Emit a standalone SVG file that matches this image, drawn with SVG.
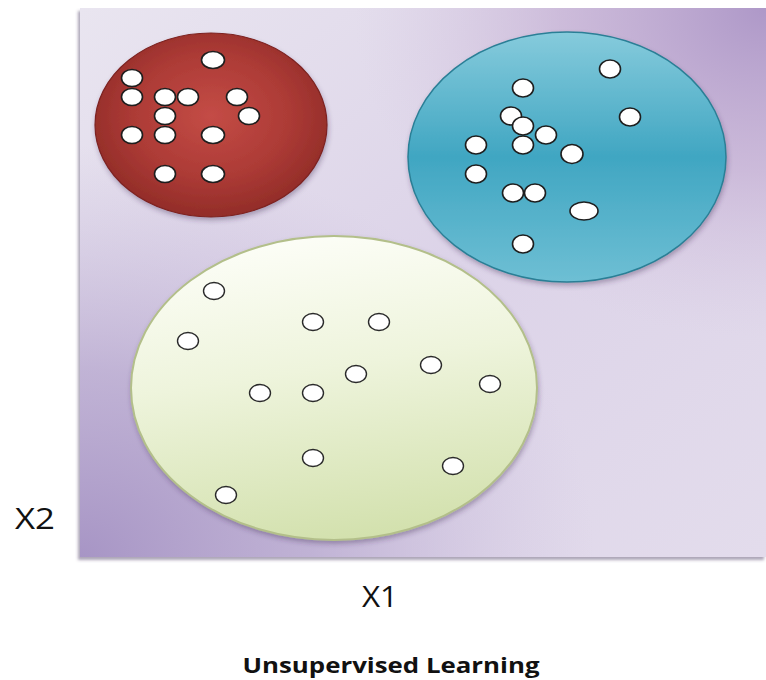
<svg xmlns="http://www.w3.org/2000/svg" width="766" height="680" viewBox="0 0 766 680">
<defs>
<linearGradient id="panelBase" x1="0" y1="0" x2="1" y2="1">
<stop offset="0" stop-color="#e9e5f0"/>
<stop offset="0.5" stop-color="#dcd3e8"/>
<stop offset="1" stop-color="#e3dcec"/>
</linearGradient>
<radialGradient id="bl" cx="0" cy="1" r="0.75" gradientUnits="objectBoundingBox">
<stop offset="0" stop-color="#a795c5" stop-opacity="1"/>
<stop offset="0.45" stop-color="#b3a3cc" stop-opacity="0.7"/>
<stop offset="1" stop-color="#c9bcdb" stop-opacity="0"/>
</radialGradient>
<radialGradient id="tr" cx="1" cy="0" r="0.6" gradientUnits="objectBoundingBox">
<stop offset="0" stop-color="#ae98c8" stop-opacity="1"/>
<stop offset="0.5" stop-color="#c0a9d0" stop-opacity="0.6"/>
<stop offset="1" stop-color="#d4c4df" stop-opacity="0"/>
</radialGradient>
<radialGradient id="redG" cx="0.5" cy="0.45" r="0.6">
<stop offset="0" stop-color="#c44c46"/>
<stop offset="0.55" stop-color="#ad3b36"/>
<stop offset="1" stop-color="#8c2925"/>
</radialGradient>
<linearGradient id="blueG" x1="0" y1="0" x2="0" y2="1">
<stop offset="0" stop-color="#86cbdc"/>
<stop offset="0.5" stop-color="#40a6c2"/>
<stop offset="1" stop-color="#6ebfd4"/>
</linearGradient>
<linearGradient id="greenG" x1="0.3" y1="0" x2="0.5" y2="1">
<stop offset="0" stop-color="#fdfef8"/>
<stop offset="0.45" stop-color="#eef4dc"/>
<stop offset="1" stop-color="#d3e1ae"/>
</linearGradient>
<filter id="sh" x="-10%" y="-10%" width="120%" height="125%">
<feDropShadow dx="1" dy="3" stdDeviation="2.5" flood-color="#3a2a50" flood-opacity="0.35"/>
</filter>
<filter id="psh" x="-5%" y="-5%" width="110%" height="110%">
<feDropShadow dx="-2" dy="3" stdDeviation="1.5" flood-color="#5a4a70" flood-opacity="0.5"/>
</filter>
</defs>
<style>
.dot{fill:#ffffff;stroke:#1e1e1e;stroke-width:1.6}
.gdot{fill:#ffffff;stroke:#2a2a2a;stroke-width:1.4}
.axis{font-family:"Open Sans","Noto Sans","DejaVu Sans",sans-serif;font-size:29px;fill:#111}
.title{font-family:"Open Sans","Noto Sans","DejaVu Sans",sans-serif;font-size:22px;font-weight:bold;fill:#111}
</style>
<rect width="766" height="680" fill="#ffffff"/>
<g id="panel" filter="url(#psh)">
<rect x="80" y="8" width="686" height="549" fill="url(#panelBase)"/>
<rect x="80" y="8" width="686" height="549" fill="url(#bl)"/>
<rect x="80" y="8" width="686" height="549" fill="url(#tr)"/>
</g>
<g id="cluster-red">
<ellipse cx="211" cy="125" rx="116" ry="92" fill="url(#redG)" stroke="#7d2420" stroke-width="1.2" filter="url(#sh)"/>
<ellipse class="dot" cx="213" cy="60" rx="11.5" ry="8.5"/>
<ellipse class="dot" cx="132" cy="78" rx="10.5" ry="8.5"/>
<ellipse class="dot" cx="132" cy="97" rx="10.5" ry="8.5"/>
<ellipse class="dot" cx="165" cy="97" rx="10.5" ry="8.5"/>
<ellipse class="dot" cx="188" cy="97" rx="10.5" ry="8.5"/>
<ellipse class="dot" cx="237" cy="97" rx="10.5" ry="8.5"/>
<ellipse class="dot" cx="165" cy="116" rx="10.5" ry="8.5"/>
<ellipse class="dot" cx="249" cy="116" rx="10.5" ry="8.5"/>
<ellipse class="dot" cx="132" cy="135" rx="10.5" ry="8.5"/>
<ellipse class="dot" cx="165" cy="135" rx="10.5" ry="8.5"/>
<ellipse class="dot" cx="213" cy="135" rx="11.5" ry="8.5"/>
<ellipse class="dot" cx="165" cy="174" rx="10.5" ry="8.5"/>
<ellipse class="dot" cx="213" cy="174" rx="11.5" ry="8.5"/>
</g>
<g id="cluster-blue">
<ellipse cx="567" cy="157" rx="159" ry="125" fill="url(#blueG)" stroke="#2a7f96" stroke-width="1.5" filter="url(#sh)"/>
<ellipse class="dot" cx="610" cy="69" rx="10.5" ry="9"/>
<ellipse class="dot" cx="523" cy="88" rx="10.5" ry="9"/>
<ellipse class="dot" cx="630" cy="117" rx="10.5" ry="9"/>
<ellipse class="dot" cx="511" cy="116" rx="10.5" ry="9"/>
<ellipse class="dot" cx="546" cy="135" rx="10.5" ry="9"/>
<ellipse class="dot" cx="523" cy="126" rx="10.5" ry="9"/>
<ellipse class="dot" cx="476" cy="145" rx="10.5" ry="9"/>
<ellipse class="dot" cx="523" cy="145" rx="10.5" ry="9"/>
<ellipse class="dot" cx="572" cy="154" rx="11" ry="9.5"/>
<ellipse class="dot" cx="476" cy="174" rx="10.5" ry="9"/>
<ellipse class="dot" cx="513" cy="193" rx="10.5" ry="9"/>
<ellipse class="dot" cx="535" cy="193" rx="10.5" ry="9"/>
<ellipse class="dot" cx="584" cy="211" rx="14" ry="9"/>
<ellipse class="dot" cx="523" cy="244" rx="10.5" ry="9"/>
</g>
<g id="cluster-green">
<ellipse cx="334" cy="388" rx="203" ry="152" fill="url(#greenG)" stroke="#b3bf8a" stroke-width="2" filter="url(#sh)"/>
<ellipse class="gdot" cx="214" cy="291" rx="10.5" ry="8.5"/>
<ellipse class="gdot" cx="188" cy="341" rx="10.5" ry="8.5"/>
<ellipse class="gdot" cx="313" cy="322" rx="10.5" ry="8.5"/>
<ellipse class="gdot" cx="379" cy="322" rx="10.5" ry="8.5"/>
<ellipse class="gdot" cx="431" cy="365" rx="10.5" ry="8.5"/>
<ellipse class="gdot" cx="356" cy="374" rx="10.5" ry="8.5"/>
<ellipse class="gdot" cx="490" cy="384" rx="10.5" ry="8.5"/>
<ellipse class="gdot" cx="260" cy="393" rx="10.5" ry="8.5"/>
<ellipse class="gdot" cx="313" cy="393" rx="10.5" ry="8.5"/>
<ellipse class="gdot" cx="313" cy="458" rx="10.5" ry="8.5"/>
<ellipse class="gdot" cx="453" cy="466" rx="10.5" ry="8.5"/>
<ellipse class="gdot" cx="226" cy="495" rx="10.5" ry="8.5"/>
</g>
<g id="labels">
<text class="axis" x="15" y="529" textLength="40" lengthAdjust="spacingAndGlyphs">X2</text>
<text class="axis" x="362" y="607" textLength="36" lengthAdjust="spacingAndGlyphs">X1</text>
<text class="title" x="391" y="673" text-anchor="middle" textLength="297" lengthAdjust="spacingAndGlyphs">Unsupervised Learning</text>
</g>
</svg>
